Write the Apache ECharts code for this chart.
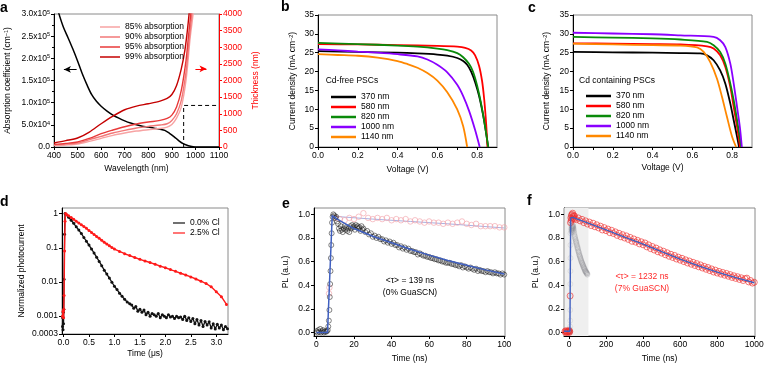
<!DOCTYPE html>
<html><head><meta charset="utf-8">
<script src="https://cdn.jsdelivr.net/npm/echarts@6/dist/echarts.min.js"></script>
<style>html,body{margin:0;padding:0;background:#fff}#c{width:769px;height:365px}</style>
</head><body><div id="c"></div>
<script>
// ---------- Panel a ----------
const aAbs = [[400,340000],[420,302000],[440,270000],[460,246000],[480,221000],[500,194000],[520,165000],[540,140000],[560,118000],[580,103000],[600,92000],[625,81000],[650,72000],[675,65000],[700,59000],[725,54000],[750,50000],[775,47000],[800,45000],[825,42500],[850,40000],[870,37500],[890,31000],[910,23000],[930,14000],[950,7000],[970,3000],[990,800],[1010,100],[1030,0],[1100,0]];
const aT85 = [[400,40],[450,60],[500,90],[550,170],[600,260],[650,350],[700,420],[750,480],[800,520],[850,555],[880,600],[900,680],[920,870],[940,1200],[960,2000],[978,3300],[990,4000],[1000,5000]];
const aT90 = [[400,60],[450,85],[500,120],[550,220],[600,320],[650,420],[700,500],[750,570],[800,620],[850,660],[880,700],[900,800],[920,1000],[940,1400],[960,2250],[975,3300],[985,4000],[995,5000]];
const aT95 = [[400,80],[450,110],[500,150],[550,260],[600,400],[650,510],[700,610],[750,690],[800,750],[850,800],[880,860],[900,960],[920,1200],[940,1700],[960,2600],[970,3300],[980,4000],[990,5000]];
const aT99 = [[400,120],[450,190],[500,270],[550,450],[600,700],[650,930],[700,1120],[750,1230],[800,1300],[850,1380],[880,1460],[900,1580],[920,1850],[940,2350],[955,2900],[965,3450],[973,4000],[985,5000]];
const aGuide = [[950,0],[950,1250],[1100,1250]];
const aLegend = ['85% absorption','90% absorption','95% absorption','99% absorption'];
const aYLabels = {0:'0.0',50000:'{m|5.0x10}{s|4}',100000:'{m|1.0x10}{s|5}',150000:'{m|1.5x10}{s|5}',200000:'{m|2.0x10}{s|5}',250000:'{m|2.5x10}{s|5}',300000:'{m|3.0x10}{s|5}'};

// ---------- Panel b (Cd-free) ----------
const bNames = ['370 nm','580 nm','820 nm','1000 nm','1140 nm'];
const b370 = [[0,25.4],[0.2,25.2],[0.4,25.0],[0.5,24.8],[0.6,24.5],[0.65,24.2],[0.7,23.6],[0.73,22.8],[0.75,21.8],[0.77,20.0],[0.79,17.2],[0.81,13.5],[0.83,8.5],[0.845,3.8],[0.855,0]];
const b580 = [[0,27.3],[0.2,27.2],[0.4,27.0],[0.6,26.8],[0.7,26.6],[0.74,26.3],[0.77,25.6],[0.79,24.3],[0.81,21.5],[0.825,17.5],[0.835,13.0],[0.843,8.0],[0.848,4.0],[0.852,0]];
const b820 = [[0,27.6],[0.2,27.3],[0.4,26.9],[0.5,26.6],[0.6,26.1],[0.65,25.7],[0.7,24.9],[0.73,23.8],[0.76,22.0],[0.78,19.9],[0.8,16.3],[0.82,11.5],[0.84,5.5],[0.856,0]];
const b1000 = [[0,25.9],[0.1,25.6],[0.2,25.3],[0.3,25.0],[0.4,24.6],[0.5,24.0],[0.55,23.2],[0.6,21.8],[0.65,19.8],[0.7,16.5],[0.73,13.5],[0.76,9.5],[0.79,4.5],[0.813,0]];
const b1140 = [[0,24.6],[0.1,24.4],[0.2,24.2],[0.3,23.7],[0.4,22.8],[0.45,22.0],[0.5,21.0],[0.55,19.6],[0.6,17.6],[0.65,14.5],[0.7,10.0],[0.73,5.5],[0.75,0]];

// ---------- Panel c (Cd containing) ----------
const c370 = [[0,25.2],[0.2,25.1],[0.4,25.0],[0.54,24.9],[0.64,24.8],[0.674,24.3],[0.707,23.0],[0.74,20.3],[0.766,16.8],[0.791,11.5],[0.808,7.1],[0.825,2.7],[0.835,0]];
const c580 = [[0,27.5],[0.2,27.4],[0.4,27.3],[0.54,27.2],[0.674,26.7],[0.707,26.1],[0.74,24.3],[0.766,21.2],[0.791,15.9],[0.808,10.6],[0.825,5.3],[0.84,0]];
const c820 = [[0,29.2],[0.2,29.0],[0.4,28.8],[0.54,28.5],[0.674,27.9],[0.707,27.0],[0.74,25.2],[0.766,22.1],[0.791,16.8],[0.808,12.4],[0.825,7.1],[0.846,0]];
const c1000 = [[0,30.3],[0.2,30.1],[0.4,29.9],[0.54,29.6],[0.707,29.2],[0.74,28.3],[0.766,26.5],[0.791,22.1],[0.808,16.8],[0.825,10.6],[0.839,5.3],[0.849,0]];
const c1140 = [[0,27.4],[0.2,27.2],[0.4,27.0],[0.54,26.9],[0.624,26.4],[0.657,25.2],[0.69,22.5],[0.724,18.1],[0.749,13.3],[0.774,8.0],[0.8,2.7],[0.82,0]];

// ---------- Panel d ----------
const dBlack = [[-0.02,0.0005],[-0.015,0.0009],[-0.01,0.0004],[-0.005,0.0013],[0,0.0006],[0.005,0.0016],[0.01,0.012],[0.02,0.25],[0.03,1.0],[0.05,0.93],[0.1,0.78],[0.15,0.64],[0.2,0.52],[0.25,0.41],[0.3,0.33],[0.35,0.26],[0.4,0.2],[0.45,0.155],[0.5,0.12],[0.55,0.092],[0.6,0.07],[0.65,0.053],[0.7,0.04],[0.75,0.03],[0.8,0.022],[0.85,0.017],[0.9,0.013],[0.95,0.0098],[1.0,0.0075],[1.05,0.006],[1.1,0.0047],[1.15,0.0038],[1.2,0.0031],[1.25,0.0026],[1.3,0.0023],[1.34,0.0021],[1.38,0.0017],[1.42,0.0019],[1.46,0.0014],[1.5,0.0016],[1.54,0.0013],[1.58,0.0015],[1.62,0.0011],[1.66,0.0013],[1.7,0.001],[1.74,0.0012],[1.78,0.0011],[1.82,0.001],[1.86,0.0012],[1.9,0.0009],[1.94,0.0011],[1.98,0.001],[2.02,0.0009],[2.06,0.0011],[2.1,0.00095],[2.14,0.001],[2.18,0.00085],[2.22,0.001],[2.26,0.0009],[2.3,0.00095],[2.34,0.0008],[2.38,0.001],[2.42,0.00075],[2.46,0.0009],[2.5,0.0007],[2.54,0.00085],[2.58,0.0006],[2.62,0.0008],[2.66,0.00055],[2.7,0.00075],[2.74,0.0005],[2.78,0.0007],[2.82,0.00055],[2.86,0.00068],[2.9,0.00045],[2.94,0.0006],[2.98,0.00042],[3.02,0.00058],[3.06,0.00045],[3.1,0.00055],[3.14,0.0004],[3.18,0.0005],[3.22,0.00043]];
const dRed = [[-0.02,0.001],[-0.01,0.0014],[0,0.0009],[0.005,0.0016],[0.01,0.004],[0.02,0.08],[0.03,0.6],[0.04,1.0],[0.06,0.95],[0.1,0.86],[0.15,0.77],[0.2,0.68],[0.25,0.6],[0.3,0.53],[0.35,0.47],[0.4,0.42],[0.45,0.37],[0.5,0.32],[0.55,0.28],[0.6,0.245],[0.65,0.215],[0.7,0.19],[0.75,0.165],[0.8,0.145],[0.85,0.128],[0.9,0.115],[0.95,0.102],[1.0,0.092],[1.1,0.078],[1.2,0.067],[1.3,0.059],[1.4,0.052],[1.5,0.046],[1.6,0.041],[1.7,0.037],[1.8,0.033],[1.9,0.029],[2.0,0.026],[2.1,0.023],[2.2,0.0205],[2.3,0.018],[2.4,0.016],[2.5,0.014],[2.6,0.0122],[2.7,0.0105],[2.8,0.009],[2.9,0.0072],[3.0,0.0052],[3.1,0.0037],[3.2,0.0022]];
const dNames = ['0.0% Cl','2.5% Cl'];
const dYTicks = [0.0003,0.001,0.01,0.1,1];

// ---------- Panel e ----------
const eBlack = [[0,0.01],[0.5,0.0],[1,0.02],[1.5,0.005],[2,0.03],[2.5,0.0],[3,0.01],[3.5,0.02],[4,0.0],[4.5,0.01],[5,0.005],[5.5,0.01],[6,0.02],[6.3,0.05],[6.6,0.1],[6.9,0.19],[7.1,0.3],[7.3,0.41],[7.5,0.52],[7.7,0.63],[7.9,0.74],[8.1,0.84],[8.3,0.93],[8.6,0.98],[9,1.0],[9.5,0.99],[10,0.97],[10.5,0.98],[11,0.94],[11.5,0.92],[12,0.88],[12.5,0.86],[13,0.9],[13.5,0.87],[14,0.85],[14.5,0.88],[15,0.9],[15.5,0.87],[16,0.89],[16.5,0.86],[17,0.88],[17.5,0.85],[18,0.9],[18.5,0.88],[19,0.91],[19.5,0.89],[20,0.9],[20.5,0.87],[21,0.91],[21.5,0.89],[22,0.9],[22.5,0.88],[23,0.89],[23.5,0.86],[24,0.9],[24.5,0.87],[25,0.88],[26,0.85],[27,0.86],[28,0.83],[29,0.84],[30,0.81],[31,0.82],[32,0.8],[33,0.81],[34,0.79],[35,0.79],[36,0.77],[37,0.78],[38,0.76],[39,0.77],[40,0.75],[41,0.76],[42,0.74],[43,0.74],[44,0.72],[45,0.73],[46,0.71],[47,0.72],[48,0.7],[49,0.71],[50,0.69],[51,0.69],[52,0.68],[53,0.68],[54,0.66],[55,0.67],[56,0.66],[57,0.65],[58,0.65],[59,0.64],[60,0.64],[61,0.63],[62,0.63],[63,0.62],[64,0.62],[65,0.61],[66,0.61],[67,0.6],[68,0.6],[69,0.59],[70,0.59],[71,0.59],[72,0.58],[73,0.58],[74,0.57],[75,0.57],[76,0.56],[77,0.57],[78,0.55],[79,0.56],[80,0.55],[81,0.54],[82,0.55],[83,0.54],[84,0.53],[85,0.54],[86,0.52],[87,0.53],[88,0.52],[89,0.52],[90,0.51],[91,0.52],[92,0.51],[93,0.51],[94,0.5],[95,0.51],[96,0.5],[97,0.5],[98,0.49],[99,0.5],[100,0.49]];
const ePink = [[6.7,0.33],[6.9,0.38],[10,0.97],[12.5,0.96],[15,0.95],[17.5,0.97],[20,0.96],[22.5,0.98],[25,1.01],[27.5,0.97],[30,0.96],[32.5,0.97],[35,0.96],[37.5,0.97],[40,0.95],[42.5,0.96],[45,0.95],[47.5,0.96],[50,0.94],[52.5,0.95],[55,0.94],[57.5,0.93],[60,0.94],[62.5,0.93],[65,0.93],[67.5,0.92],[70,0.93],[72.5,0.92],[75,0.93],[77.5,0.94],[80,0.92],[82.5,0.91],[85,0.92],[87.5,0.9],[90,0.9],[92.5,0.9],[95,0.9],[97.5,0.89],[100,0.89]];
const ePinkFit = [[9,0.984],[30,0.96],[50,0.94],[70,0.92],[100,0.885]];
const eFit = [[0,0.0],[5.9,0.0],[8.4,0.99],[11.5,0.955],[20,0.88],[30,0.815],[40,0.76],[50,0.705],[60,0.655],[70,0.61],[80,0.57],[90,0.53],[100,0.495]];

// ---------- Panel f ----------
const fRed = [[-22,0.01],[-19,0.0],[-16,0.015],[-13,0.005],[-10,0.0],[-7,0.01],[-4,0.005],[-1,0.015],[2,0.0],[4,0.01],[6,0.31],[8,0.93],[10,0.97],[12,0.95],[14,0.99],[16,1.0],[18,0.96],[20,1.01],[22,0.98],[24,0.97],[26,0.99],[28,0.96],
[30,0.985],[40,0.955],[50,0.97],[60,0.945],[70,0.958],[80,0.93],[90,0.945],[100,0.918],[110,0.935],[120,0.905],[130,0.925],[140,0.895],[150,0.912],[160,0.885],[170,0.9],[180,0.868],[190,0.888],[200,0.862],[210,0.876],[220,0.845],[230,0.865],[240,0.838],[250,0.852],[260,0.822],[270,0.84],[280,0.81],[290,0.828],[300,0.8],[310,0.818],[320,0.788],[330,0.805],[340,0.772],[350,0.792],[360,0.765],[370,0.78],[380,0.75],[390,0.768],[400,0.742],[410,0.758],[420,0.725],[430,0.742],[440,0.71],[450,0.728],[460,0.698],[470,0.715],[480,0.683],[490,0.7],[500,0.672],[510,0.688],[520,0.658],[530,0.675],[540,0.645],[550,0.662],[560,0.635],[570,0.652],[580,0.622],[590,0.638],[600,0.612],[610,0.628],[620,0.6],[630,0.615],[640,0.588],[650,0.605],[660,0.578],[670,0.594],[680,0.567],[690,0.583],[700,0.556],[710,0.572],[720,0.546],[730,0.56],[740,0.535],[750,0.55],[760,0.524],[770,0.538],[780,0.512],[790,0.528],[800,0.503],[810,0.517],[820,0.494],[830,0.508],[840,0.485],[850,0.5],[860,0.476],[870,0.49],[880,0.466],[890,0.48],[900,0.458],[910,0.472],[920,0.449],[930,0.463],[940,0.44],[950,0.455],[960,0.46],[970,0.428],[980,0.44],[990,0.418],[1000,0.425]];
const fFit = [[-27,0.01],[5,0.01],[9,0.97],[20,0.975],[100,0.928],[200,0.868],[300,0.808],[400,0.748],[500,0.684],[600,0.621],[700,0.564],[800,0.511],[900,0.465],[1000,0.421]];
const fShade = [-26,105];

// ---------- build ----------
const FONT = 'Liberation Sans, Arial, Helvetica, sans-serif';
const FS = 8.5;
function merge(a,b){const o=Array.isArray(a)?a.slice():Object.assign({},a);for(const k in b){if(b[k]&&typeof b[k]==='object'&&!Array.isArray(b[k])&&a&&typeof a[k]==='object'&&!Array.isArray(a[k]))o[k]=merge(a[k],b[k]);else o[k]=b[k];}return o;}
const baseAxis = {
  nameLocation:'middle',
  axisLine:{show:true,onZero:false,lineStyle:{color:'#000',width:1}},
  axisTick:{show:true,inside:false,length:3,lineStyle:{color:'#000',width:1}},
  axisLabel:{fontSize:FS,color:'#000',margin:4,fontFamily:FONT,formatter:v=>String(v)},
  splitLine:{show:false},
  nameTextStyle:{fontSize:FS,color:'#000',fontFamily:FONT}
};
const A = o => merge(baseAxis,o);
const supRich = {n:{fontSize:FS,fontFamily:FONT,color:'#000'},s:{fontSize:5.5,fontFamily:FONT,color:'#000',verticalAlign:'top',lineHeight:6}};
const range = (a,b,s)=>{const r=[];for(let v=a;v<=b+1e-9;v+=s)r.push(+v.toFixed(6));return r;};

const grids = [
  {left:54,top:14,width:165,height:133},
  {left:318,top:15,width:179,height:132},
  {left:573,top:15,width:179,height:132},
  {left:62,top:208,width:166,height:126},
  {left:314,top:208,width:191,height:128},
  {left:564,top:208,width:191,height:128}
].map(g=>Object.assign({show:true,borderColor:'#8a8a8a',borderWidth:1,containLabel:false},g));

const xAxes = [
  A({gridIndex:0,type:'value',min:400,max:1100,interval:100,name:'Wavelength (nm)',nameGap:17}),
  A({gridIndex:1,type:'value',min:0,max:0.9,name:'Voltage (V)',nameGap:18,
     axisLabel:{customValues:[0,0.2,0.4,0.6,0.8],formatter:v=>v.toFixed(1)},axisTick:{customValues:range(0,0.8,0.1)}}),
  A({gridIndex:2,type:'value',min:0,max:0.9,name:'Voltage (V)',nameGap:16,
     axisLabel:{customValues:[0,0.2,0.4,0.6,0.8],formatter:v=>v.toFixed(1)},axisTick:{customValues:range(0,0.8,0.1)}}),
  A({gridIndex:3,type:'value',min:-0.03,max:3.23,name:'Time (μs)',nameGap:15,
     axisLabel:{customValues:range(0,3,0.5),formatter:v=>v.toFixed(1)},axisTick:{customValues:range(0,3,0.5)}}),
  A({gridIndex:4,type:'value',min:-1.3,max:100.4,name:'Time (ns)',nameGap:18,
     axisLabel:{customValues:range(0,100,20)},axisTick:{customValues:range(0,100,20)}}),
  A({gridIndex:5,type:'value',min:-27,max:1004,name:'Time (ns)',nameGap:18,
     axisLabel:{customValues:range(0,1000,200)},axisTick:{customValues:range(0,1000,200)}})
];
const yAxes = [
  A({gridIndex:0,type:'value',min:0,max:300000,interval:50000,position:'left',
     name:'{n|Absorption coefficient (cm}{s|−1}{n|)}',nameGap:42,nameTextStyle:{rich:supRich},
     minorTick:{show:true,splitNumber:2,length:2},
     axisLabel:{formatter:v=>aYLabels[v]||'',rich:supRich}}),
  A({gridIndex:0,type:'value',min:0,max:4000,interval:500,position:'right',
     name:'Thickness (nm)',nameGap:32,nameRotate:90,
     axisLine:{lineStyle:{color:'#ff0000'}},axisTick:{lineStyle:{color:'#ff0000'}},
     axisLabel:{color:'#ff0000'},nameTextStyle:{color:'#ff0000'}}),
  A({gridIndex:1,type:'value',min:0,max:35,interval:5,
     name:'{n|Current density (mA cm}{s|−2}{n|)}',nameGap:21,nameTextStyle:{rich:supRich}}),
  A({gridIndex:2,type:'value',min:0,max:35,interval:5,
     name:'{n|Current density (mA cm}{s|−2}{n|)}',nameGap:22,nameTextStyle:{rich:supRich}}),
  A({gridIndex:3,type:'log',logBase:10,min:0.0003,max:1.46,name:'Normalized photocurrent',nameGap:36,
     axisLabel:{customValues:dYTicks,formatter:v=>{if(v>=0.99)return '1';if(Math.abs(v-0.0003)<1e-6)return '0.0003';if(Math.abs(v-0.001)<1e-6)return '0.001';if(Math.abs(v-0.01)<1e-5)return '0.01';return '0.1';}},
     axisTick:{customValues:dYTicks}}),
  A({gridIndex:4,type:'value',min:-0.03,max:1.054,name:'PL (a.u.)',nameGap:24,
     axisLabel:{customValues:range(0,1,0.2),formatter:v=>v.toFixed(1)},axisTick:{customValues:range(0,1,0.2)}}),
  A({gridIndex:5,type:'value',min:-0.03,max:1.054,name:'PL (a.u.)',nameGap:24,
     axisLabel:{customValues:range(0,1,0.2),formatter:v=>v.toFixed(1)},axisTick:{customValues:range(0,1,0.2)}})
];

function lineS(name,data,xi,yi,color,width,extra){
  return Object.assign({name,type:'line',data,xAxisIndex:xi,yAxisIndex:yi,symbol:'none',smooth:0.3,
    lineStyle:{color,width},itemStyle:{color},clip:true,z:3},extra||{});
}
const jvColors = ['#000000','#ff0000','#0a8a0a','#8a00ff','#ff8800'];
const series = [];
// a
series.push(lineS('abs',aAbs,0,0,'#000',1.5,{markLine:{silent:true,symbol:['none','arrow'],symbolSize:[5,7],label:{show:false},lineStyle:{color:'#000',width:1,type:'solid'},data:[[{coord:[496,175000]},{coord:[442,175000]}]]}}));
series.push(lineS('85% absorption',aT85,0,1,'#f7a3a3',1.4));
series.push(lineS('90% absorption',aT90,0,1,'#f27878',1.4));
series.push(lineS('95% absorption',aT95,0,1,'#e83a3a',1.4));
series.push(lineS('99% absorption',aT99,0,1,'#c40000',1.4));
series.push(lineS('guide',aGuide,0,1,'#000',1,{smooth:false,lineStyle:{color:'#000',width:1,type:[4,3]},
  markLine:{silent:true,symbol:['none','arrow'],symbolSize:[5,7],label:{show:false},lineStyle:{color:'#ff0000',width:1,type:'solid'},data:[[{coord:[1000,2350]},{coord:[1047,2350]}]]}}));
// b
[b370,b580,b820,b1000,b1140].forEach((d,i)=>series.push(lineS(bNames[i],d,1,2,jvColors[i],1.8)));
// c
[c370,c580,c820,c1000,c1140].forEach((d,i)=>series.push(lineS(bNames[i],d,2,3,jvColors[i],1.8)));
// d
series.push({name:dNames[0],type:'line',data:dBlack,xAxisIndex:3,yAxisIndex:4,symbol:'circle',symbolSize:3,lineStyle:{color:'#111',width:1.3},itemStyle:{color:'#111'},z:3});
series.push({name:dNames[1],type:'line',data:dRed,xAxisIndex:3,yAxisIndex:4,symbol:'circle',symbolSize:3,lineStyle:{color:'#ff1a1a',width:1.4},itemStyle:{color:'#ff1a1a'},z:4});
// e
const ring=(c,w)=>({color:'rgba(0,0,0,0)',borderColor:c,borderWidth:w});
series.push({name:'ePink',type:'scatter',data:ePink,xAxisIndex:4,yAxisIndex:5,symbol:'circle',symbolSize:5.5,itemStyle:ring('#f2a0a8',0.8),z:3});
series.push(lineS('ePinkFit',ePinkFit,4,5,'#aab2e2',1,{smooth:false}));
series.push({name:'eBlack',type:'scatter',data:eBlack,xAxisIndex:4,yAxisIndex:5,symbol:'circle',symbolSize:5,itemStyle:ring('rgba(30,30,30,0.85)',0.8),z:4});
series.push(lineS('eFit',eFit,4,5,'#3f5fc0',1.5,{smooth:false,z:5}));
// f
series.push({name:'fShade',type:'line',data:[],xAxisIndex:5,yAxisIndex:6,z:1,
  markArea:{silent:true,itemStyle:{color:'#efefef'},data:[[{xAxis:fShade[0]},{xAxis:fShade[1]}]]}});
series.push({name:'fGrey',type:'scatter',data:eBlack,xAxisIndex:5,yAxisIndex:6,symbol:'circle',symbolSize:5,itemStyle:ring('rgba(130,130,140,0.24)',0.8),z:3});
series.push({name:'fRed',type:'scatter',data:fRed,xAxisIndex:5,yAxisIndex:6,symbol:'circle',symbolSize:6,itemStyle:ring('#ee2a2a',0.8),z:4});
series.push(lineS('fFit',fFit,5,6,'#3f5fc0',1.4,{smooth:false,z:5}));

const legTxt = {fontSize:FS,fontFamily:FONT,color:'#000',lineHeight:10};
const legends = [
  {data:aLegend,left:95,top:17,orient:'vertical',icon:'rect',itemWidth:20,itemHeight:1.5,itemGap:0,textStyle:legTxt,selectedMode:false},
  {data:bNames,left:326,top:87,orient:'vertical',icon:'rect',itemWidth:25,itemHeight:2.5,itemGap:0,textStyle:legTxt,selectedMode:false},
  {data:bNames,left:581,top:86,orient:'vertical',icon:'rect',itemWidth:25,itemHeight:2.5,itemGap:0,textStyle:legTxt,selectedMode:false},
  {data:dNames,left:168,top:213,orient:'vertical',icon:'rect',itemWidth:12,itemHeight:1.2,itemGap:0,textStyle:legTxt,selectedMode:false}
];

const T = (x,y,text,opt)=>Object.assign({type:'text',x,y,style:Object.assign({text,fill:'#000',font:FS+'px '+FONT,align:'left',verticalAlign:'middle'},opt||{})});
const bold = {font:'bold 14px '+FONT};
const graphics = [
  T(0,8,'a',bold),T(281,7,'b',bold),T(528,8.5,'c',bold),T(0,202.5,'d',bold),T(282,204,'e',bold),T(527,201,'f',bold),
  T(325.7,81,'Cd-free PSCs'),T(579,81,'Cd containing PSCs'),
  T(410,281,'<τ> = 139 ns',{align:'center'}),T(410,292.5,'(0% GuaSCN)',{align:'center'}),
  T(642,277,'<τ> = 1232 ns',{align:'center',fill:'#ff2a2a'}),T(642,288.5,'(7% GuaSCN)',{align:'center',fill:'#ff2a2a'})
];

const chart = echarts.init(document.getElementById('c'),null,{renderer:'canvas'});
chart.setOption({animation:false,backgroundColor:'#fff',textStyle:{fontFamily:FONT},
  grid:grids,xAxis:xAxes,yAxis:yAxes,series,legend:legends,graphic:graphics});
</script></body></html>
